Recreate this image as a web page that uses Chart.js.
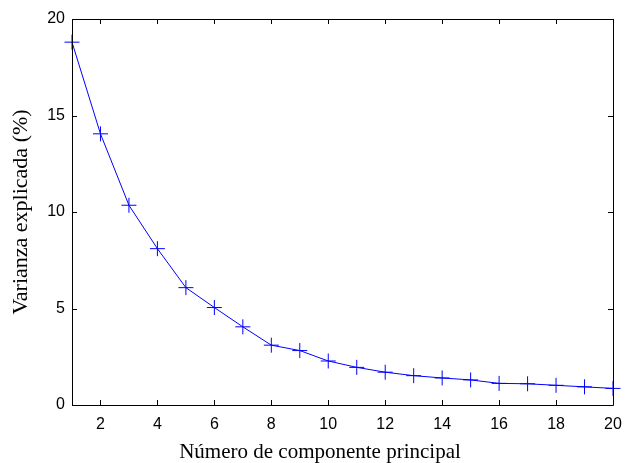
<!DOCTYPE html>
<html lang="es">
<head>
    <meta charset="UTF-8">
    <title>Varianza explicada</title>
    <script src="https://cdn.jsdelivr.net/npm/chart.js"></script>
    <style>
        html, body { margin: 0; padding: 0; background: #fff; overflow: hidden; }
        #containerCanvas { width: 625px; height: 463px; }
    </style>
</head>
<body>
    <div id="containerCanvas">
        <canvas id="myChart" width="625" height="463"></canvas>
    </div>

<script>

// datos
var componentes = [1, 2, 3, 4, 5, 6, 7, 8, 9, 10, 11, 12, 13, 14, 15, 16, 17, 18, 19, 20];
var varianza = [18.8, 14.05, 10.35, 8.1, 6.08, 5.05, 4.05, 3.1, 2.82, 2.28, 1.95, 1.7, 1.52, 1.4, 1.3, 1.12, 1.1, 1.02, 0.94, 0.86];
var ticksX = [2, 4, 6, 8, 10, 12, 14, 16, 18, 20];
var ticksY = [0, 5, 10, 15, 20];
var tituloX = 'Número de componente principal';

var puntos = [];
for (var i = 0; i < componentes.length; i++) {
    puntos.push({ x: componentes[i], y: varianza[i] });
}

// marco y marcas hacia dentro, estilo matlab
var marco = {
    id: 'marco',
    afterDraw: function (chart) {
        var ctx = chart.ctx;
        var a = chart.chartArea;
        var sx = chart.scales.x;
        var sy = chart.scales.y;
        ctx.save();
        ctx.strokeStyle = '#000';
        ctx.lineWidth = 1;
        ctx.beginPath();
        ctx.rect(Math.round(a.left) + 0.5, Math.round(a.top) + 0.5, Math.round(a.right - a.left), Math.round(a.bottom - a.top));
        ctx.stroke();
        ctx.beginPath();
        ticksX.forEach(function (v) {
            var px = Math.round(sx.getPixelForValue(v)) + 0.5;
            ctx.moveTo(px, a.bottom); ctx.lineTo(px, a.bottom - 5);
            ctx.moveTo(px, a.top); ctx.lineTo(px, a.top + 5);
        });
        ticksY.forEach(function (v) {
            var py = Math.round(sy.getPixelForValue(v)) + 0.5;
            ctx.moveTo(a.left, py); ctx.lineTo(a.left + 5, py);
            ctx.moveTo(a.right, py); ctx.lineTo(a.right - 5, py);
        });
        ctx.stroke();

        // titulo del eje x, algo corrido a la izquierda como en la figura original
        ctx.fillStyle = '#000';
        ctx.font = '21px "Liberation Serif"';
        ctx.textAlign = 'center';
        ctx.textBaseline = 'alphabetic';
        ctx.fillText(tituloX, 320, 458);
        ctx.restore();
    }
};

var dados = {
    datasets: [
        {
            label: 'Varianza explicada',
            data: puntos,
            borderColor: '#0000ff',
            backgroundColor: '#0000ff',
            borderWidth: 1,
            pointStyle: 'cross',
            pointRadius: 7.5,
            pointBorderColor: '#0000ff',
            pointBorderWidth: 1,
            tension: 0,
            fill: false,
            clip: false
        }
    ]
};

var options = {
    responsive: false,
    animation: false,
    devicePixelRatio: 1,
    layout: { padding: { top: 19, right: 12, left: 0, bottom: 0 } },
    plugins: {
        legend: { display: false },
        tooltip: { enabled: false }
    },
    scales: {
        x: {
            type: 'linear',
            min: 1,
            max: 20,
            afterBuildTicks: function (scale) {
                scale.ticks = ticksX.map(function (v) { return { value: v }; });
            },
            afterFit: function (scale) {
                scale.height = 58;
                scale.paddingLeft = 0;
                scale.paddingRight = 0;
            },
            grid: { display: false, drawTicks: false },
            border: { display: false },
            ticks: {
                color: '#000',
                padding: 10,
                maxRotation: 0,
                autoSkip: false,
                font: { family: 'Liberation Sans', size: 16 }
            },
            title: { display: false }
        },
        y: {
            min: 0,
            max: 20,
            afterBuildTicks: function (scale) {
                scale.ticks = ticksY.map(function (v) { return { value: v }; });
            },
            afterFit: function (scale) {
                scale.width = 72;
                scale.paddingTop = 0;
                scale.paddingBottom = 0;
            },
            grid: { display: false, drawTicks: false },
            border: { display: false },
            ticks: {
                color: '#000',
                padding: 7,
                font: { family: 'Liberation Sans', size: 16 }
            },
            title: {
                display: true,
                text: 'Varianza explicada (%)',
                color: '#000',
                padding: { top: 8, bottom: 0 },
                font: { family: 'Liberation Serif', size: 22 }
            }
        }
    }
};

const config = {
    type: 'line',
    data: dados,
    options: options,
    plugins: [marco]
};

let myChart = new Chart(document.getElementById('myChart'), config);
</script>
</body>
</html>
